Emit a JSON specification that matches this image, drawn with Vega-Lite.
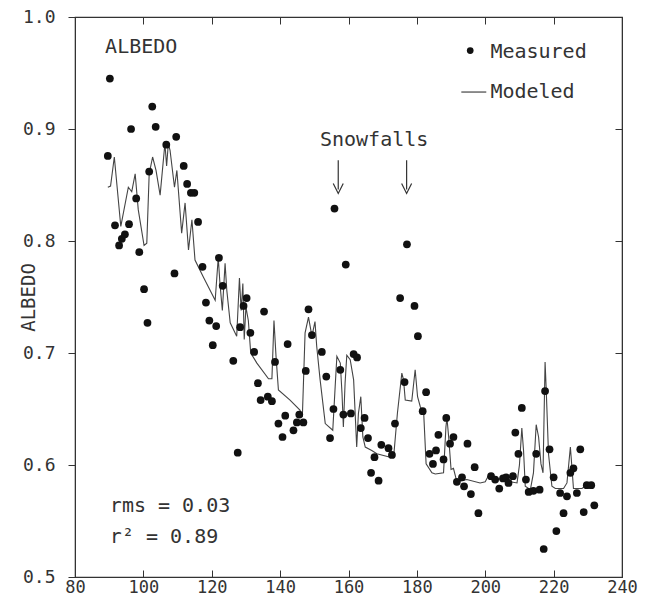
{
  "$schema": "https://vega.github.io/schema/vega-lite/v6.json",
  "width": 547,
  "height": 560,
  "padding": {"left": 75, "top": 17, "right": 25, "bottom": 23},
  "autosize": {"type": "none"},
  "background": "white",
  "config": {
    "view": {"stroke": "#333", "strokeWidth": 1.2},
    "font": "DejaVu Sans Mono",
    "axis": {
      "labelFont": "DejaVu Sans Mono",
      "titleFont": "DejaVu Sans Mono",
      "labelFontSize": 18,
      "titleFontSize": 19,
      "labelColor": "#333",
      "titleColor": "#333",
      "titleFontWeight": "normal",
      "domainColor": "#333",
      "tickColor": "#333",
      "grid": false
    }
  },
  "datasets": {
    "measured": [
      {"day": 89.6, "albedo": 0.876}, {"day": 90.2, "albedo": 0.945}, {"day": 91.7, "albedo": 0.814},
      {"day": 92.9, "albedo": 0.796}, {"day": 93.7, "albedo": 0.802}, {"day": 94.6, "albedo": 0.806},
      {"day": 95.8, "albedo": 0.815}, {"day": 96.4, "albedo": 0.900}, {"day": 97.9, "albedo": 0.838},
      {"day": 98.8, "albedo": 0.790}, {"day": 100.2, "albedo": 0.757}, {"day": 101.2, "albedo": 0.727},
      {"day": 101.7, "albedo": 0.862}, {"day": 102.6, "albedo": 0.920}, {"day": 103.6, "albedo": 0.902},
      {"day": 106.7, "albedo": 0.886}, {"day": 109.1, "albedo": 0.771}, {"day": 109.6, "albedo": 0.893},
      {"day": 111.8, "albedo": 0.867}, {"day": 112.8, "albedo": 0.851}, {"day": 113.9, "albedo": 0.843},
      {"day": 114.9, "albedo": 0.843}, {"day": 116.0, "albedo": 0.817}, {"day": 117.3, "albedo": 0.777},
      {"day": 118.3, "albedo": 0.745}, {"day": 119.3, "albedo": 0.729}, {"day": 120.3, "albedo": 0.707},
      {"day": 121.3, "albedo": 0.724}, {"day": 122.1, "albedo": 0.785}, {"day": 123.2, "albedo": 0.760},
      {"day": 126.3, "albedo": 0.693}, {"day": 127.6, "albedo": 0.611}, {"day": 128.3, "albedo": 0.723},
      {"day": 129.3, "albedo": 0.742}, {"day": 130.2, "albedo": 0.749}, {"day": 131.3, "albedo": 0.718},
      {"day": 132.4, "albedo": 0.701}, {"day": 133.5, "albedo": 0.673}, {"day": 134.3, "albedo": 0.658},
      {"day": 135.3, "albedo": 0.737}, {"day": 136.4, "albedo": 0.661}, {"day": 137.6, "albedo": 0.657},
      {"day": 138.5, "albedo": 0.692}, {"day": 139.5, "albedo": 0.637}, {"day": 140.7, "albedo": 0.625},
      {"day": 141.5, "albedo": 0.644}, {"day": 142.2, "albedo": 0.708}, {"day": 143.9, "albedo": 0.631},
      {"day": 144.9, "albedo": 0.638}, {"day": 145.6, "albedo": 0.645}, {"day": 146.8, "albedo": 0.638},
      {"day": 147.5, "albedo": 0.684}, {"day": 148.3, "albedo": 0.739}, {"day": 149.3, "albedo": 0.716},
      {"day": 152.2, "albedo": 0.701}, {"day": 153.5, "albedo": 0.679}, {"day": 154.6, "albedo": 0.624},
      {"day": 155.6, "albedo": 0.650}, {"day": 155.9, "albedo": 0.829}, {"day": 157.6, "albedo": 0.685},
      {"day": 158.5, "albedo": 0.645}, {"day": 159.2, "albedo": 0.779}, {"day": 160.7, "albedo": 0.646},
      {"day": 161.5, "albedo": 0.699}, {"day": 162.5, "albedo": 0.696}, {"day": 163.6, "albedo": 0.633},
      {"day": 164.7, "albedo": 0.642}, {"day": 165.7, "albedo": 0.624}, {"day": 166.6, "albedo": 0.593},
      {"day": 167.6, "albedo": 0.607}, {"day": 168.8, "albedo": 0.586}, {"day": 169.6, "albedo": 0.618},
      {"day": 171.7, "albedo": 0.615}, {"day": 172.7, "albedo": 0.609}, {"day": 173.6, "albedo": 0.637},
      {"day": 175.1, "albedo": 0.749}, {"day": 176.4, "albedo": 0.674}, {"day": 177.1, "albedo": 0.797},
      {"day": 179.3, "albedo": 0.742}, {"day": 180.3, "albedo": 0.715}, {"day": 181.7, "albedo": 0.648},
      {"day": 182.7, "albedo": 0.665}, {"day": 183.7, "albedo": 0.610}, {"day": 184.7, "albedo": 0.601},
      {"day": 185.6, "albedo": 0.613}, {"day": 186.3, "albedo": 0.627}, {"day": 187.8, "albedo": 0.605},
      {"day": 188.6, "albedo": 0.642}, {"day": 189.7, "albedo": 0.619}, {"day": 190.7, "albedo": 0.625},
      {"day": 191.7, "albedo": 0.585}, {"day": 193.2, "albedo": 0.589}, {"day": 193.8, "albedo": 0.581},
      {"day": 194.8, "albedo": 0.619}, {"day": 195.8, "albedo": 0.574}, {"day": 196.9, "albedo": 0.598},
      {"day": 198.0, "albedo": 0.557}, {"day": 201.7, "albedo": 0.590}, {"day": 202.9, "albedo": 0.587},
      {"day": 204.1, "albedo": 0.579}, {"day": 205.2, "albedo": 0.588}, {"day": 206.1, "albedo": 0.589},
      {"day": 206.8, "albedo": 0.584}, {"day": 208.1, "albedo": 0.590}, {"day": 208.8, "albedo": 0.629},
      {"day": 209.7, "albedo": 0.610}, {"day": 210.7, "albedo": 0.651}, {"day": 211.9, "albedo": 0.587},
      {"day": 212.7, "albedo": 0.576}, {"day": 214.1, "albedo": 0.577}, {"day": 214.9, "albedo": 0.610},
      {"day": 215.9, "albedo": 0.578}, {"day": 217.1, "albedo": 0.525}, {"day": 217.5, "albedo": 0.666},
      {"day": 218.8, "albedo": 0.614}, {"day": 220.0, "albedo": 0.589}, {"day": 220.8, "albedo": 0.541},
      {"day": 221.9, "albedo": 0.575}, {"day": 222.9, "albedo": 0.557}, {"day": 223.9, "albedo": 0.572},
      {"day": 224.9, "albedo": 0.593}, {"day": 225.8, "albedo": 0.597}, {"day": 226.8, "albedo": 0.575},
      {"day": 227.8, "albedo": 0.614}, {"day": 228.8, "albedo": 0.558}, {"day": 229.7, "albedo": 0.582},
      {"day": 231.0, "albedo": 0.582}, {"day": 231.9, "albedo": 0.564}
    ],
    "modeled": [
      {"day": 89.6, "albedo": 0.848}, {"day": 90.4, "albedo": 0.849}, {"day": 91.5, "albedo": 0.875},
      {"day": 93.4, "albedo": 0.813}, {"day": 95.6, "albedo": 0.848}, {"day": 96.6, "albedo": 0.844},
      {"day": 97.6, "albedo": 0.860}, {"day": 98.5, "albedo": 0.828}, {"day": 100.2, "albedo": 0.796},
      {"day": 101.0, "albedo": 0.798}, {"day": 101.7, "albedo": 0.860}, {"day": 102.7, "albedo": 0.875},
      {"day": 103.7, "albedo": 0.863}, {"day": 104.9, "albedo": 0.841}, {"day": 106.3, "albedo": 0.887},
      {"day": 106.8, "albedo": 0.867}, {"day": 107.3, "albedo": 0.887}, {"day": 107.8, "albedo": 0.881},
      {"day": 109.1, "albedo": 0.848}, {"day": 109.8, "albedo": 0.863}, {"day": 111.2, "albedo": 0.807},
      {"day": 112.2, "albedo": 0.834}, {"day": 113.2, "albedo": 0.792}, {"day": 114.2, "albedo": 0.819},
      {"day": 115.1, "albedo": 0.783}, {"day": 117.5, "albedo": 0.768}, {"day": 121.0, "albedo": 0.747},
      {"day": 121.9, "albedo": 0.785}, {"day": 122.4, "albedo": 0.762}, {"day": 123.1, "albedo": 0.738},
      {"day": 123.9, "albedo": 0.780}, {"day": 124.4, "albedo": 0.756}, {"day": 125.4, "albedo": 0.727},
      {"day": 127.3, "albedo": 0.715}, {"day": 128.1, "albedo": 0.767}, {"day": 128.6, "albedo": 0.738},
      {"day": 129.1, "albedo": 0.762}, {"day": 129.5, "albedo": 0.712}, {"day": 130.0, "albedo": 0.741},
      {"day": 130.7, "albedo": 0.729}, {"day": 131.4, "albedo": 0.700}, {"day": 133.2, "albedo": 0.691},
      {"day": 136.6, "albedo": 0.677}, {"day": 137.6, "albedo": 0.677}, {"day": 138.2, "albedo": 0.729},
      {"day": 138.8, "albedo": 0.697}, {"day": 139.5, "albedo": 0.667}, {"day": 142.9, "albedo": 0.658},
      {"day": 145.8, "albedo": 0.649}, {"day": 146.5, "albedo": 0.643}, {"day": 147.3, "albedo": 0.718},
      {"day": 148.3, "albedo": 0.732}, {"day": 149.3, "albedo": 0.715}, {"day": 150.2, "albedo": 0.728},
      {"day": 150.7, "albedo": 0.706}, {"day": 151.7, "albedo": 0.676}, {"day": 153.2, "albedo": 0.637},
      {"day": 155.4, "albedo": 0.631}, {"day": 156.1, "albedo": 0.670}, {"day": 156.6, "albedo": 0.697},
      {"day": 157.6, "albedo": 0.691}, {"day": 158.1, "albedo": 0.664}, {"day": 158.5, "albedo": 0.634},
      {"day": 159.0, "albedo": 0.673}, {"day": 159.5, "albedo": 0.698}, {"day": 160.5, "albedo": 0.694},
      {"day": 161.5, "albedo": 0.676}, {"day": 162.4, "albedo": 0.616}, {"day": 162.9, "albedo": 0.646},
      {"day": 163.6, "albedo": 0.661}, {"day": 164.2, "albedo": 0.625}, {"day": 164.9, "albedo": 0.616},
      {"day": 166.8, "albedo": 0.613}, {"day": 168.3, "albedo": 0.610}, {"day": 172.2, "albedo": 0.607},
      {"day": 173.2, "albedo": 0.607}, {"day": 174.3, "albedo": 0.646}, {"day": 175.6, "albedo": 0.682},
      {"day": 176.1, "albedo": 0.676}, {"day": 176.6, "albedo": 0.658}, {"day": 178.5, "albedo": 0.657},
      {"day": 179.5, "albedo": 0.685}, {"day": 180.2, "albedo": 0.661}, {"day": 181.0, "albedo": 0.652},
      {"day": 182.0, "albedo": 0.646}, {"day": 182.7, "albedo": 0.601}, {"day": 184.4, "albedo": 0.593},
      {"day": 185.4, "albedo": 0.592}, {"day": 187.8, "albedo": 0.593}, {"day": 188.5, "albedo": 0.634},
      {"day": 188.8, "albedo": 0.642}, {"day": 189.3, "albedo": 0.625}, {"day": 190.0, "albedo": 0.596},
      {"day": 190.7, "albedo": 0.597}, {"day": 191.7, "albedo": 0.585}, {"day": 194.6, "albedo": 0.587},
      {"day": 198.5, "albedo": 0.584}, {"day": 200.0, "albedo": 0.585}, {"day": 201.0, "albedo": 0.591},
      {"day": 203.4, "albedo": 0.588}, {"day": 207.3, "albedo": 0.585}, {"day": 209.3, "albedo": 0.584},
      {"day": 210.0, "albedo": 0.600}, {"day": 210.7, "albedo": 0.633}, {"day": 211.2, "albedo": 0.613},
      {"day": 211.7, "albedo": 0.581}, {"day": 213.2, "albedo": 0.578}, {"day": 214.1, "albedo": 0.593},
      {"day": 214.9, "albedo": 0.636}, {"day": 215.6, "albedo": 0.625}, {"day": 216.3, "albedo": 0.601},
      {"day": 216.9, "albedo": 0.593}, {"day": 217.5, "albedo": 0.692}, {"day": 217.8, "albedo": 0.670},
      {"day": 218.5, "albedo": 0.610}, {"day": 219.5, "albedo": 0.581}, {"day": 220.5, "albedo": 0.579},
      {"day": 222.9, "albedo": 0.579}, {"day": 223.9, "albedo": 0.584}, {"day": 224.9, "albedo": 0.616},
      {"day": 225.4, "albedo": 0.596}, {"day": 225.8, "albedo": 0.579}, {"day": 228.3, "albedo": 0.579},
      {"day": 229.7, "albedo": 0.582}, {"day": 231.7, "albedo": 0.581}
    ],
    "leftLabels": [
      {"day": 88.8, "albedo": 0.973, "text": "ALBEDO"},
      {"day": 201.5, "albedo": 0.969, "text": "Measured"},
      {"day": 201.5, "albedo": 0.933, "text": "Modeled"},
      {"day": 90.2, "albedo": 0.563, "text": "rms  =  0.03"},
      {"day": 90.2, "albedo": 0.536, "text": "r²  =  0.89"}
    ],
    "centerLabels": [
      {"day": 167.5, "albedo": 0.890, "text": "Snowfalls"}
    ],
    "arrows": [
      {"day": 157.0, "top": 0.872, "tip": 0.846},
      {"day": 177.0, "top": 0.872, "tip": 0.846}
    ],
    "legendDot": [{"day": 195.6, "albedo": 0.970}],
    "legendLine": [{"day": 193.0, "albedo": 0.933}, {"day": 200.3, "albedo": 0.933}]
  },
  "resolve": {"axis": {"x": "independent", "y": "independent"}},
  "layer": [
    {
      "data": {"name": "modeled"},
      "mark": {"type": "line", "color": "#444", "strokeWidth": 1.1},
      "encoding": {
        "x": {"field": "day", "type": "quantitative",
          "scale": {"domain": [80, 240], "nice": false, "zero": false},
          "axis": {"orient": "bottom", "values": [80, 100, 120, 140, 160, 180, 200, 220, 240],
            "tickSize": -7, "labelPadding": 9, "labelFontSize": 17, "title": null, "labelFlush": false}},
        "y": {"field": "albedo", "type": "quantitative",
          "scale": {"domain": [0.5, 1.0], "nice": false, "zero": false},
          "axis": {"orient": "left", "values": [0.5, 0.6, 0.7, 0.8, 0.9, 1.0], "format": ".1f",
            "tickSize": 7, "labelPadding": 13, "title": "ALBEDO", "titlePadding": -16, "labelFlush": false}}
      }
    },
    {
      "data": {"name": "measured"},
      "mark": {"type": "point", "filled": true, "color": "#111", "size": 60, "opacity": 1},
      "encoding": {
        "x": {"field": "day", "type": "quantitative",
          "axis": {"orient": "top", "values": [80, 100, 120, 140, 160, 180, 200, 220, 240],
            "tickSize": -7, "labels": false, "title": null}},
        "y": {"field": "albedo", "type": "quantitative",
          "axis": {"orient": "right", "values": [0.5, 0.6, 0.7, 0.8, 0.9, 1.0],
            "tickSize": -7, "labels": false, "title": null}}
      }
    },
    {
      "data": {"name": "leftLabels"},
      "mark": {"type": "text", "font": "DejaVu Sans Mono", "fontSize": 20, "color": "#333", "baseline": "middle", "align": "left"},
      "encoding": {
        "x": {"field": "day", "type": "quantitative", "axis": null},
        "y": {"field": "albedo", "type": "quantitative", "axis": null},
        "text": {"field": "text"}
      }
    },
    {
      "data": {"name": "centerLabels"},
      "mark": {"type": "text", "font": "DejaVu Sans Mono", "fontSize": 20, "color": "#333", "baseline": "middle", "align": "center"},
      "encoding": {
        "x": {"field": "day", "type": "quantitative", "axis": null},
        "y": {"field": "albedo", "type": "quantitative", "axis": null},
        "text": {"field": "text"}
      }
    },
    {
      "data": {"name": "arrows"},
      "mark": {"type": "rule", "color": "#333", "strokeWidth": 1.2},
      "encoding": {
        "x": {"field": "day", "type": "quantitative", "axis": null},
        "y": {"field": "top", "type": "quantitative", "axis": null},
        "y2": {"field": "tip"}
      }
    },
    {
      "data": {"name": "arrows"},
      "mark": {"type": "point", "shape": "M-1,-1.2L0,0.8L1,-1.2", "filled": false, "color": "#333", "strokeWidth": 1.2, "size": 100, "opacity": 1},
      "encoding": {
        "x": {"field": "day", "type": "quantitative", "axis": null},
        "y": {"field": "tip", "type": "quantitative", "axis": null}
      }
    },
    {
      "data": {"name": "legendDot"},
      "mark": {"type": "point", "filled": true, "color": "#111", "size": 45, "opacity": 1},
      "encoding": {
        "x": {"field": "day", "type": "quantitative", "axis": null},
        "y": {"field": "albedo", "type": "quantitative", "axis": null}
      }
    },
    {
      "data": {"name": "legendLine"},
      "mark": {"type": "line", "color": "#444", "strokeWidth": 1.2},
      "encoding": {
        "x": {"field": "day", "type": "quantitative", "axis": null},
        "y": {"field": "albedo", "type": "quantitative", "axis": null}
      }
    }
  ]
}
